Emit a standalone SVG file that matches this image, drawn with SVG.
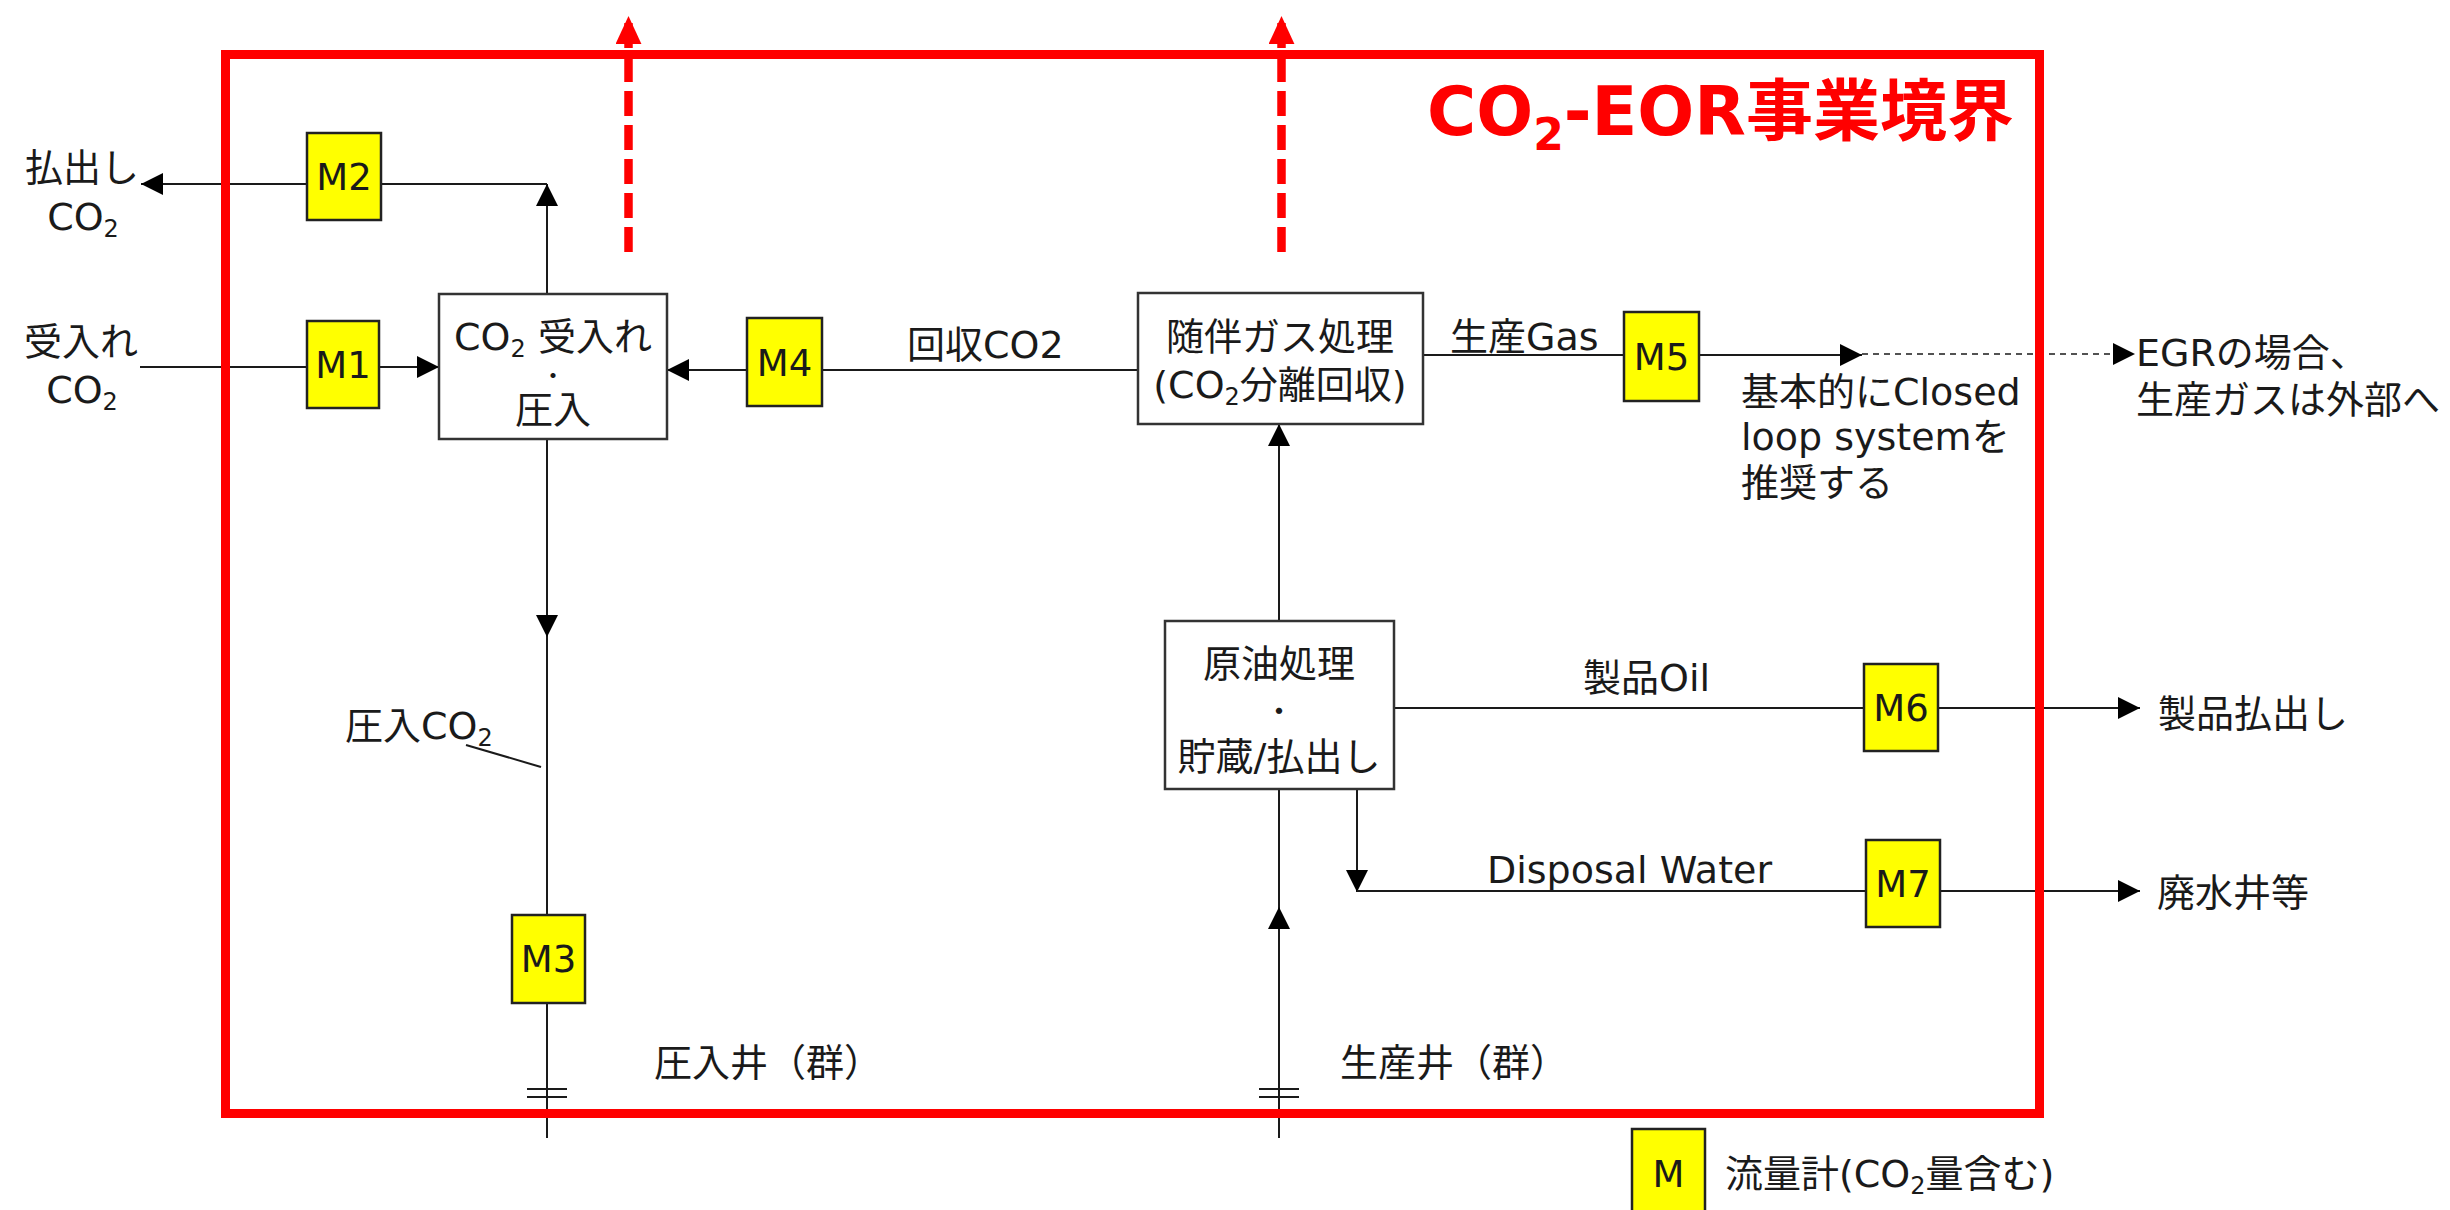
<svg xmlns="http://www.w3.org/2000/svg" width="2450" height="1210" viewBox="0 0 2450 1210">
<defs>
<style>
text{font-family:'DejaVu Sans','Noto Sans CJK JP',sans-serif;font-size:38px;fill:#1a1a1a}
.m{font-size:37px;text-anchor:middle}
.c{text-anchor:middle}
.dot{font-size:30px;text-anchor:middle}
.meter{fill:#ffff00;stroke:#222;stroke-width:2.5}
.proc{fill:#fff;stroke:#333;stroke-width:2.5}
.ln{fill:none;stroke:#1a1a1a;stroke-width:2}
.arr{marker-end:url(#ah)}
.dash{stroke-dasharray:6 5}
.red{fill:none;stroke:#ff0000;stroke-width:9}
.rdash{fill:none;stroke:#ff0000;stroke-width:8.5;stroke-dasharray:25 9;marker-end:url(#rah)}
.title{font-size:67px;font-weight:bold;fill:#ff0000}
</style>
<marker id="ah" markerUnits="userSpaceOnUse" markerWidth="22" markerHeight="22" refX="20" refY="10" orient="auto" viewBox="0 0 20 20">
<path d="M0,0 L20,10 L0,20 z" fill="#000"/>
</marker>
<marker id="rah" markerUnits="userSpaceOnUse" markerWidth="28" markerHeight="26" refX="26" refY="12" orient="auto" viewBox="0 0 26 24">
<path d="M0,0 L26,12 L0,24 z" fill="#ff0000"/>
</marker>
</defs>
<rect width="2450" height="1210" fill="#fff"/>

<g id="connectors">
<path class="ln arr" d="M547,294 V184"/>
<path class="ln" d="M547,184 H381"/>
<path class="ln arr" d="M307,184 H141"/>
<path class="ln" d="M140,367 H307"/>
<path class="ln arr" d="M379,367 H439"/>
<path class="ln" d="M1138,370 H822"/>
<path class="ln arr" d="M747,370 H667"/>
<path class="ln arr" d="M547,439 V637"/>
<path class="ln" d="M547,637 V915"/>
<path class="ln" d="M547,1003 V1138"/>
<path class="ln" d="M466,745 L541,767"/>
<path class="ln arr" d="M1279,621 V424"/>
<path class="ln arr" d="M1279,1138 V907"/>
<path class="ln" d="M1279,907 V789"/>
<path class="ln arr" d="M1357,789 V892"/>
<path class="ln" d="M1357,891 H1866"/>
<path class="ln arr" d="M1940,891 H2140"/>
<path class="ln" d="M1394,708 H1864"/>
<path class="ln arr" d="M1938,708 H2140"/>
<path class="ln" d="M1423,355 H1624"/>
<path class="ln arr" d="M1699,355 H1862"/>
<path class="ln arr dash" d="M1862,354 H2135" style="stroke-width:1.6"/>
</g>

<g id="well-injection">
<path class="ln" d="M527,1089 H567 M527,1097 H567"/>
<text x="654" y="1076">圧入井（群）</text>
</g>
<g id="well-production">
<path class="ln" d="M1259,1089 H1299 M1259,1097 H1299"/>
<text x="1340" y="1076">生産井（群）</text>
</g>

<g id="M1"><rect class="meter" x="307" y="321" width="72" height="87"/><text class="m" x="343" y="378">M1</text></g>
<g id="M2"><rect class="meter" x="307" y="133" width="74" height="87"/><text class="m" x="344" y="190">M2</text></g>
<g id="M3"><rect class="meter" x="512" y="915" width="73" height="88"/><text class="m" x="548.5" y="972">M3</text></g>
<g id="M4"><rect class="meter" x="747" y="318" width="75" height="88"/><text class="m" x="784.5" y="375.5">M4</text></g>
<g id="M5"><rect class="meter" x="1624" y="312" width="75" height="89"/><text class="m" x="1661.5" y="370">M5</text></g>
<g id="M6"><rect class="meter" x="1864" y="664" width="74" height="87"/><text class="m" x="1901" y="721">M6</text></g>
<g id="M7"><rect class="meter" x="1866" y="840" width="74" height="87"/><text class="m" x="1903" y="897">M7</text></g>

<g id="co2-receive">
<rect class="proc" x="439" y="294" width="228" height="145"/>
<text class="c" x="553" y="350">CO<tspan font-size="24" dy="7">2</tspan><tspan dy="-7"> 受入れ</tspan></text>
<text class="dot" x="553" y="384" style="font-size:24px">・</text>
<text class="c" x="553" y="423">圧入</text>
</g>
<g id="gas-processing">
<rect class="proc" x="1138" y="293" width="285" height="131"/>
<text class="c" x="1280" y="350">随伴ガス処理</text>
<text class="c" x="1280" y="398">(CO<tspan font-size="24" dy="7">2</tspan><tspan dy="-7">分離回収)</tspan></text>
</g>
<g id="oil-processing">
<rect class="proc" x="1165" y="621" width="229" height="168"/>
<text class="c" x="1279" y="677">原油処理</text>
<text class="dot" x="1279" y="722">・</text>
<text class="c" x="1279" y="770">貯蔵/払出し</text>
</g>

<g id="labels">
<text class="c" x="82" y="181">払出し</text>
<text class="c" x="83" y="230">CO<tspan font-size="24" dy="7">2</tspan></text>
<text class="c" x="81" y="355">受入れ</text>
<text class="c" x="82" y="403">CO<tspan font-size="24" dy="7">2</tspan></text>
<text x="907" y="358">回収CO2</text>
<text x="1450" y="350">生産Gas</text>
<text x="1741" y="405">基本的にClosed</text>
<text x="1741" y="450">loop systemを</text>
<text x="1741" y="496">推奨する</text>
<text x="2136" y="366">EGRの場合、</text>
<text x="2136" y="413">生産ガスは外部へ</text>
<text x="1583" y="691">製品Oil</text>
<text x="2158" y="727">製品払出し</text>
<text x="1487" y="883">Disposal Water</text>
<text x="2157" y="906">廃水井等</text>
<text x="345" y="739">圧入CO<tspan font-size="24" dy="7">2</tspan></text>
</g>

<g id="boundary">
<rect class="red" x="225.5" y="54.5" width="1814" height="1059"/>
<path class="rdash" d="M628.5,252 V16"/>
<path class="rdash" d="M1281.5,252 V16"/>
<text class="title" x="1427" y="135">CO<tspan font-size="44" dy="15">2</tspan><tspan dy="-15">-EOR事業境界</tspan></text>
</g>

<g id="legend">
<rect class="meter" x="1632" y="1129" width="73" height="90"/>
<text class="m" x="1668.5" y="1187">M</text>
<text x="1725" y="1187">流量計(CO<tspan font-size="24" dy="7">2</tspan><tspan dy="-7">量含む)</tspan></text>
</g>
</svg>
